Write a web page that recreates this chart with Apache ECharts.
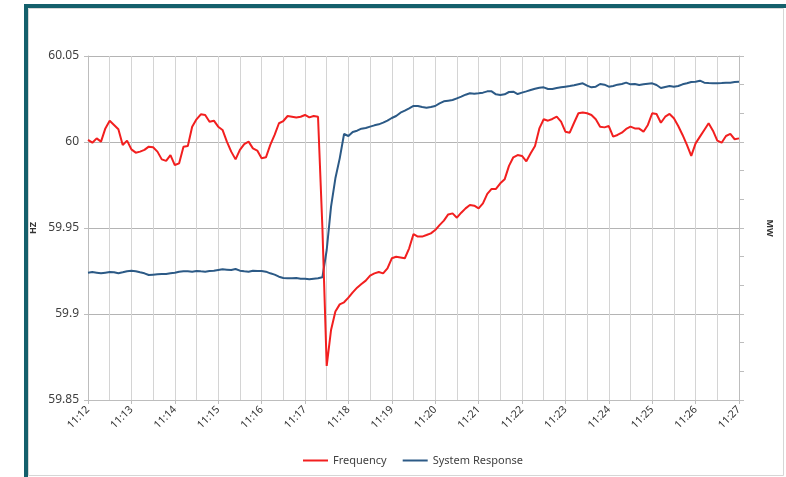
<!DOCTYPE html>
<html>
<head>
<meta charset="utf-8">
<script src="https://cdn.jsdelivr.net/npm/echarts@6/dist/echarts.min.js"></script>
<style>
html,body{margin:0;padding:0;background:#fff;}
#chart{width:786px;height:477px;}
</style>
</head>
<body>
<div id="chart"></div>
<script>
// Tick labels on the time axis (one per minute)
const timeTicks = ['11:12','11:13','11:14','11:15','11:16','11:17','11:18','11:19','11:20','11:21','11:22','11:23','11:24','11:25','11:26','11:27'];
// Samples every 6 seconds from 11:12:00 to 11:27:00
const samplesPerMinute = 10;

// Frequency (Hz)
const freqHz = [
60.0012,59.9996,60.0021,60.0002,60.0079,60.0124,60.0099,60.0074,59.9983,60.0008,
59.9957,59.9938,59.9944,59.9954,59.9973,59.9969,59.9944,59.9899,59.9890,59.9924,
59.9866,59.9876,59.9973,59.9977,60.0089,60.0132,60.0161,60.0157,60.0118,60.0124,
60.0089,60.0070,60.0002,59.9944,59.9899,59.9954,59.9988,60.0002,59.9963,59.9950,
59.9905,59.9911,59.9983,60.0041,60.0109,60.0122,60.0151,60.0147,60.0143,60.0147,
60.0157,60.0143,60.0151,60.0147,59.9508,59.8698,59.8907,59.9014,59.9056,59.9068,
59.9095,59.9126,59.9153,59.9174,59.9194,59.9223,59.9236,59.9244,59.9236,59.9265,
59.9324,59.9333,59.9329,59.9324,59.9382,59.9465,59.9450,59.9450,59.9459,59.9469,
59.9488,59.9517,59.9543,59.9579,59.9585,59.9560,59.9589,59.9614,59.9634,59.9630,
59.9614,59.9643,59.9698,59.9727,59.9727,59.9760,59.9783,59.9861,59.9911,59.9924,
59.9919,59.9888,59.9934,59.9977,60.0079,60.0132,60.0124,60.0134,60.0147,60.0118,
60.0060,60.0054,60.0112,60.0167,60.0172,60.0167,60.0157,60.0132,60.0089,60.0085,
60.0093,60.0031,60.0041,60.0054,60.0076,60.0089,60.0079,60.0078,60.0060,60.0099,
60.0167,60.0163,60.0112,60.0147,60.0163,60.0138,60.0093,60.0041,59.9983,59.9919,
59.9992,60.0031,60.0070,60.0109,60.0066,60.0008,59.9996,60.0035,60.0047,60.0016,
60.0021
];

// System response (MW, secondary axis in tick units; axis has no printed labels)
const responseMW = [
4.442,4.465,4.442,4.419,4.442,4.465,4.453,4.419,4.453,4.488,
4.512,4.488,4.453,4.419,4.360,4.372,4.384,4.395,4.395,4.419,
4.442,4.477,4.488,4.488,4.477,4.500,4.488,4.477,4.500,4.512,
4.535,4.558,4.547,4.535,4.570,4.512,4.488,4.477,4.512,4.500,
4.500,4.477,4.419,4.372,4.302,4.256,4.244,4.244,4.256,4.233,
4.233,4.210,4.233,4.244,4.279,5.233,6.744,7.733,8.430,9.279,
9.209,9.349,9.395,9.465,9.488,9.535,9.581,9.616,9.674,9.744,
9.837,9.907,10.023,10.093,10.174,10.256,10.256,10.221,10.198,10.221,
10.256,10.349,10.419,10.442,10.465,10.523,10.581,10.651,10.698,10.686,
10.698,10.721,10.767,10.767,10.663,10.640,10.663,10.744,10.756,10.674,
10.721,10.767,10.814,10.860,10.895,10.907,10.849,10.849,10.884,10.907,
10.930,10.953,10.977,11.012,11.047,10.965,10.907,10.930,11.023,11.000,
10.930,10.953,11.000,11.023,11.070,11.012,11.023,10.988,11.012,11.035,
11.047,10.988,10.884,10.919,10.953,10.930,10.953,11.012,11.047,11.093,
11.105,11.140,11.070,11.058,11.047,11.047,11.058,11.070,11.070,11.093,
11.105
];

const seriesNames = ['Frequency', 'System Response'];

// Build category labels (one per sample)
const categories = [];
for (let m = 0; m < timeTicks.length; m++) {
  const steps = (m === timeTicks.length - 1) ? 1 : samplesPerMinute;
  for (let s = 0; s < steps; s++) {
    const sec = s * (60 / samplesPerMinute);
    categories.push(timeTicks[m] + ':' + (sec < 10 ? '0' : '') + sec);
  }
}

const FONT = 'Noto Sans';
const chart = echarts.init(document.getElementById('chart'), null, {renderer: 'canvas'});
chart.setOption({
  animation: false,
  backgroundColor: '#ffffff',
  textStyle: {fontFamily: FONT},
  graphic: [
    {type: 'rect', silent: true, z: 100, shape: {x: 28.5, y: 8.5, width: 755, height: 467}, style: {fill: 'none', stroke: '#d6d6d6', lineWidth: 1}},
    {type: 'rect', silent: true, z: 101, shape: {x: 24, y: 4, width: 762, height: 4}, style: {fill: '#14606c'}},
    {type: 'rect', silent: true, z: 101, shape: {x: 24, y: 4, width: 4, height: 473}, style: {fill: '#14606c'}}
  ],
  legend: {
    left: 298, top: 450,
    icon: 'rect',
    itemWidth: 25, itemHeight: 2, itemGap: 16,
    textStyle: {fontSize: 11, color: '#404040', fontFamily: FONT},
    data: seriesNames
  },
  grid: {left: 88, right: 47, top: 56, bottom: 77, containLabel: false},
  xAxis: {
    type: 'category',
    boundaryGap: false,
    data: categories,
    axisLine: {show: true, lineStyle: {color: '#bdbdbd', width: 1}},
    axisTick: {show: true, length: 4, interval: (i) => i % samplesPerMinute === 0, lineStyle: {color: '#bdbdbd'}},
    axisLabel: {
      interval: (i) => i % samplesPerMinute === 0,
      rotate: 45, fontSize: 10.5, color: '#333', margin: 8, fontFamily: FONT,
      formatter: (v, i) => timeTicks[Math.round(i / samplesPerMinute)]
    },
    splitLine: {show: true, interval: (i) => i % (samplesPerMinute / 2) === 0, lineStyle: {color: '#d4d4d4', width: 1}}
  },
  yAxis: [
    {
      type: 'value', min: 59.85, max: 60.05, interval: 0.05,
      name: 'HZ', nameLocation: 'middle', nameGap: 50, nameRotate: 90, nameMoveOverlap: false,
      nameTextStyle: {fontSize: 9, fontWeight: 'bold', color: '#333', fontFamily: FONT},
      axisLine: {show: true, lineStyle: {color: '#bdbdbd'}},
      axisTick: {show: true, length: 4, lineStyle: {color: '#bdbdbd'}},
      axisLabel: {fontSize: 12, color: '#404040', margin: 9, fontFamily: FONT, formatter: (v) => String(+v.toFixed(2))},
      splitLine: {show: true, lineStyle: {color: '#b4b4b4', width: 1}}
    },
    {
      type: 'value', min: 0, max: 12, interval: 1, position: 'right',
      name: 'MW', nameLocation: 'middle', nameGap: 26, nameRotate: -90,
      nameTextStyle: {fontSize: 9, fontWeight: 'bold', color: '#333', fontFamily: FONT},
      axisLine: {show: true, lineStyle: {color: '#bdbdbd'}},
      axisTick: {show: true, length: 5, lineStyle: {color: '#bdbdbd'}},
      axisLabel: {show: false},
      splitLine: {show: false}
    }
  ],
  series: [
    {
      name: seriesNames[0], type: 'line', yAxisIndex: 0, data: freqHz,
      showSymbol: false, symbol: 'none', smooth: false,
      lineStyle: {color: '#f21f1f', width: 2}, itemStyle: {color: '#f21f1f'}, z: 3
    },
    {
      name: seriesNames[1], type: 'line', yAxisIndex: 1, data: responseMW,
      showSymbol: false, symbol: 'none', smooth: false,
      lineStyle: {color: '#2c5a86', width: 2}, itemStyle: {color: '#2c5a86'}, z: 2
    }
  ]
});
</script>
</body>
</html>
